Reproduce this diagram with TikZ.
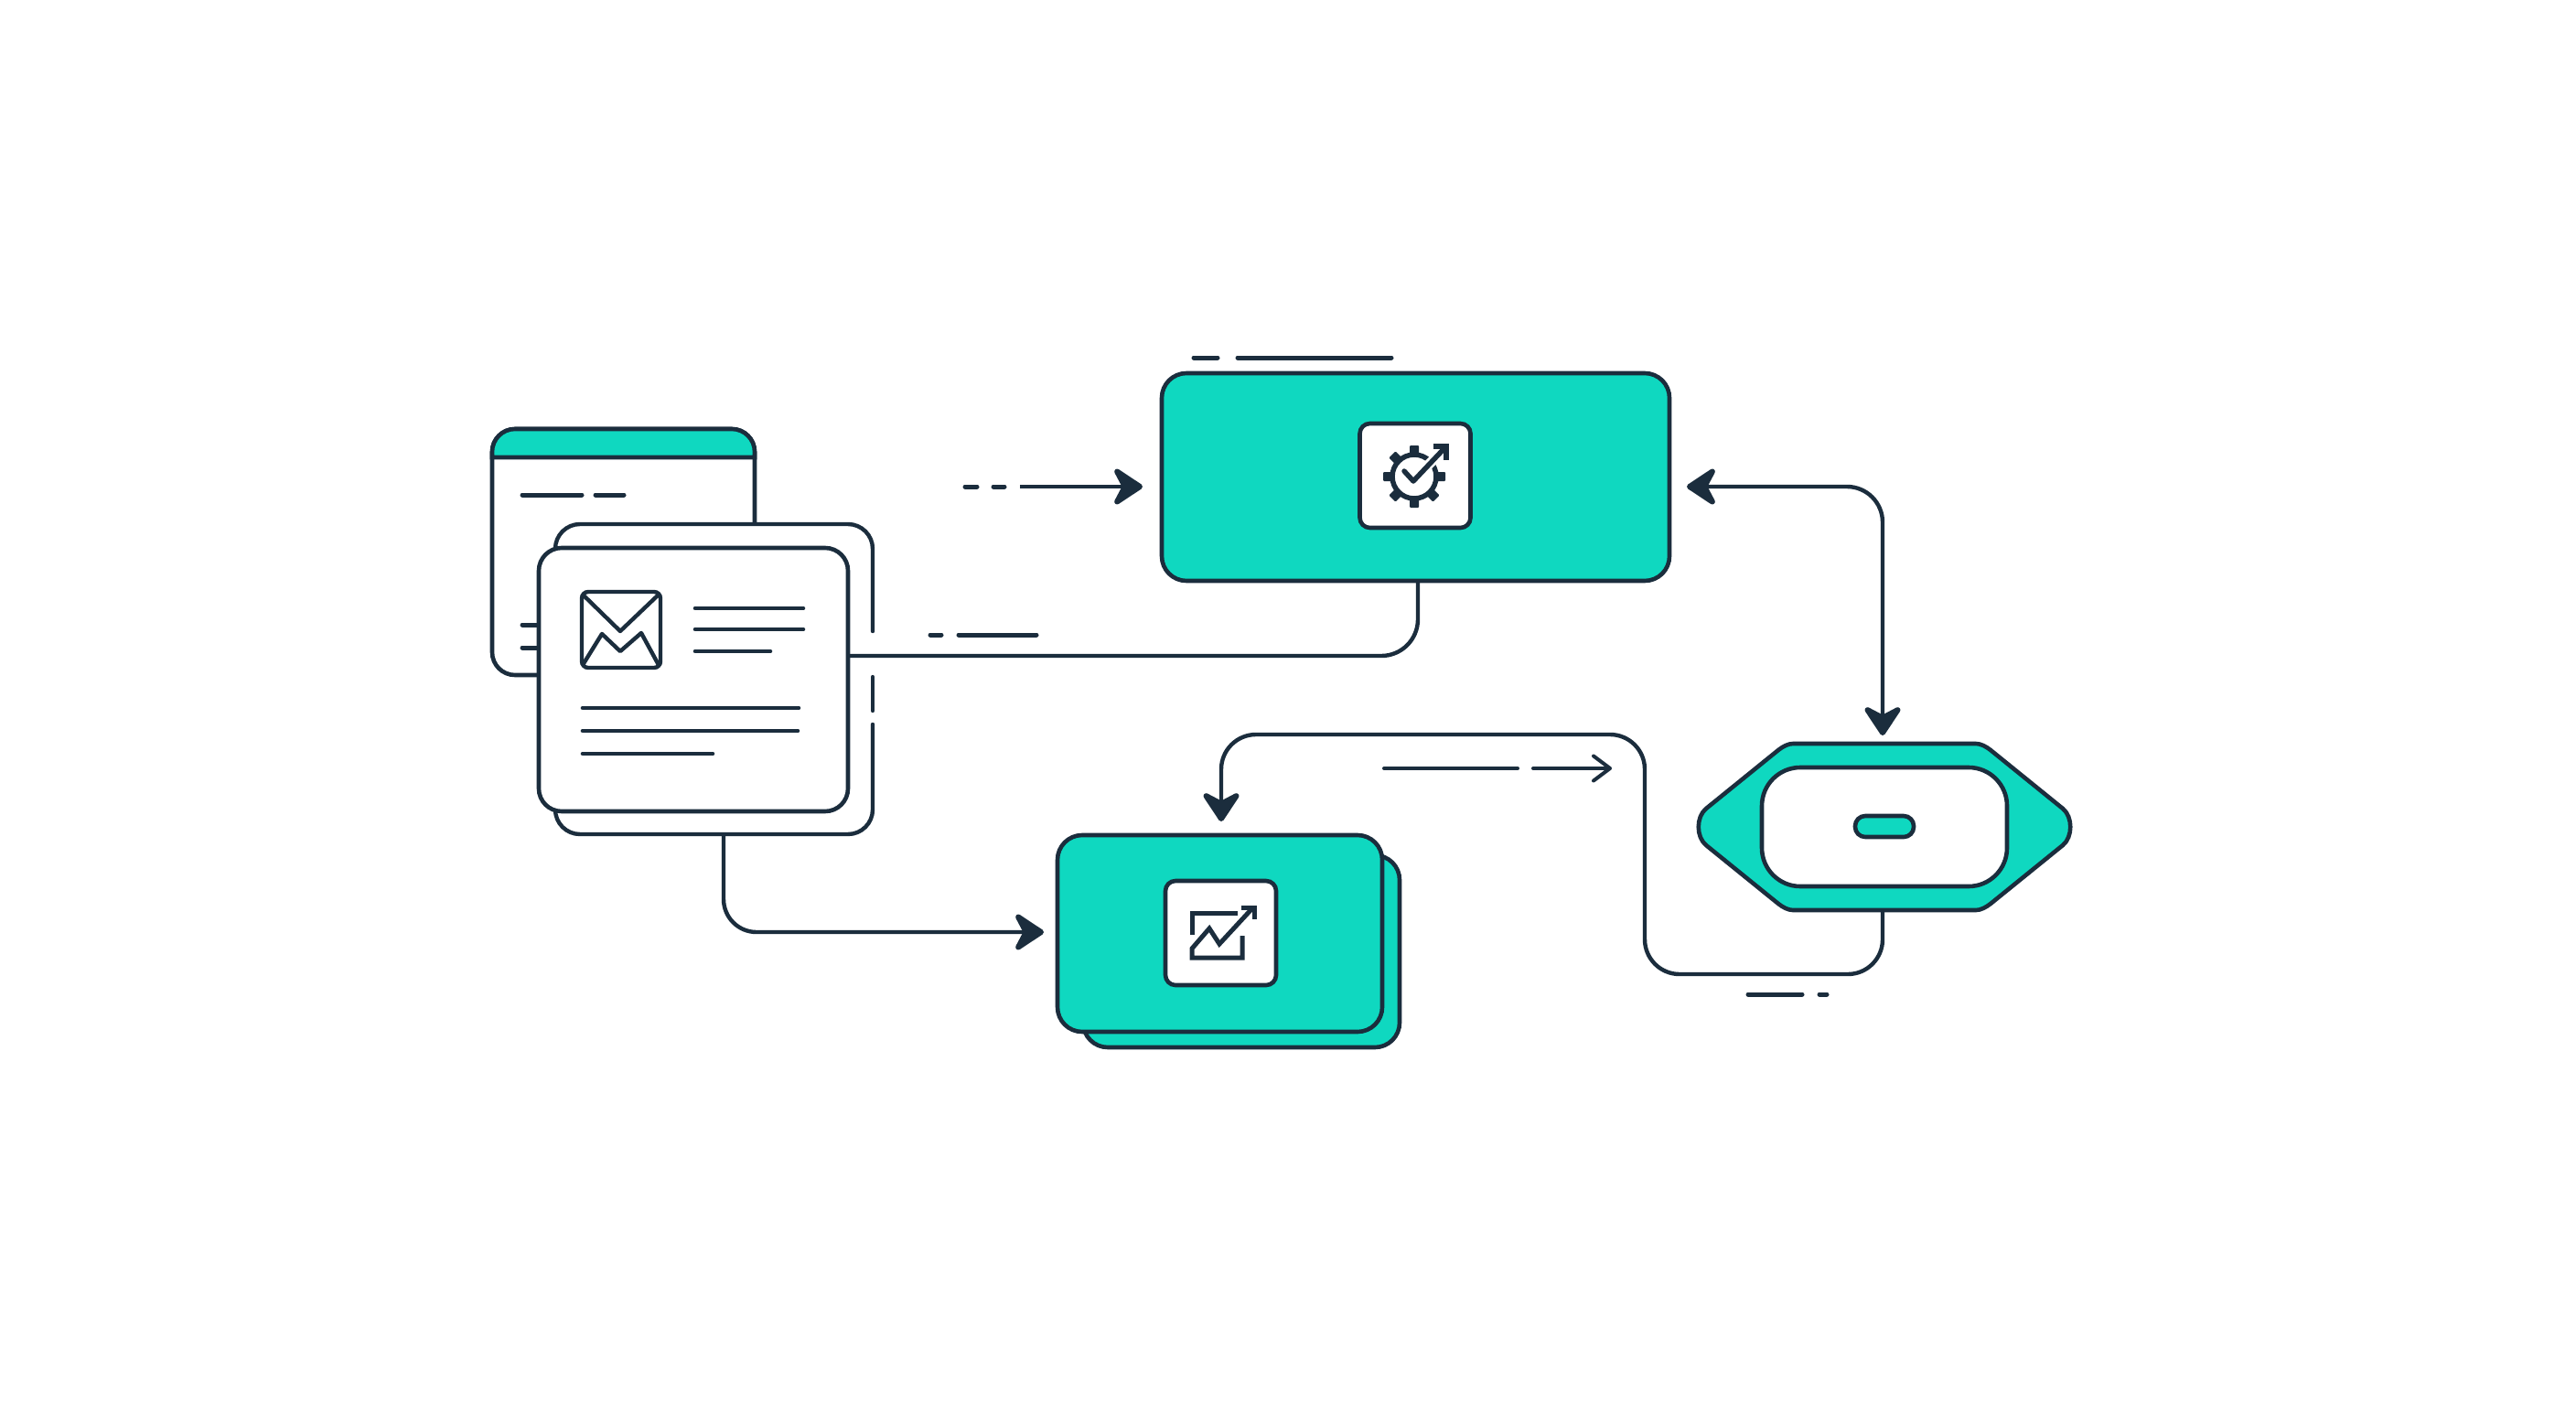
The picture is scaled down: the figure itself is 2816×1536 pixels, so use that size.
\documentclass[tikz,border=0pt]{standalone}
\usetikzlibrary{arrows.meta}
\definecolor{ink}{HTML}{1B2D3D}
\definecolor{teal}{HTML}{0FD8C0}
\tikzset{
  x=1pt,y=-1pt,
  box/.style={rectangle,draw=ink,line width=4.6pt,inner sep=0pt,outer sep=0pt},
  tealbox/.style={box,fill=teal,rounded corners=27pt},
  whitebox/.style={box,fill=white,rounded corners=25pt},
  iconbox/.style={box,fill=white,rounded corners=11pt},
  wire/.style={draw=ink,line width=4.4pt,line join=round},
  bigtip/.tip={Stealth[length=38pt,width=50pt,inset=13pt,line width=6pt,round]},
  thintip/.tip={Straight Barb[length=18pt,width=27pt,line width=4pt,round]},
  dashline/.style={draw=ink,line width=5pt,line cap=round},
  textline/.style={draw=ink,line width=4.6pt,line cap=round},
  glyph/.style={draw=ink,line width=5pt,line join=miter},
}
\begin{document}
\begin{tikzpicture}
\useasboundingbox[fill=white] (0,0) rectangle (2816,1536);

% port coordinates
\coordinate (inA) at (1115,532);
\coordinate (rowTop) at (0,532);
\coordinate (rowDoc) at (0,717);
\coordinate (rowStack) at (0,1019);
\coordinate (colTop) at (1550,0);
\coordinate (colDoc) at (791,0);
\coordinate (colHex) at (2058,0);
\coordinate (colStack) at (1335,0);
\coordinate (cornerA) at (1798,1065);
\coordinate (cornerB) at (1798,803);
\coordinate (thinA) at (1676,840);
\coordinate (thinB) at (1762,840);

% browser window
\node[whitebox,minimum width=287pt,minimum height=269pt] (window) at (681.5,603.5) {};
\draw[draw=ink,line width=4.6pt,fill=teal] (538,500) [rounded corners=25pt] -- (538,469) -- (825,469) [sharp corners] -- (825,500) -- cycle;
\draw[dashline] (571,541) -- (636,541);
\draw[dashline] (651,541) -- (682,541);
\draw[dashline] (571,683) -- (590,683);
\draw[dashline] (571,708) -- (590,708);

% back document
\node[rectangle,fill=white,rounded corners=27pt,inner sep=0pt,outer sep=0pt,minimum width=347pt,minimum height=339pt] (docback) at (780.5,742.5) {};
\draw[wire,line cap=round,rounded corners=27pt] (954,690) -- (954,573) -- (607,573) -- (607,912) -- (954,912) -- (954,792);
\draw[wire,line cap=round] (954,740) -- (954,777);

% front document
\node[whitebox,minimum width=338pt,minimum height=288pt] (docfront) at (758,743) {};
\node[box,line width=4.4pt,rounded corners=7pt,minimum width=86pt,minimum height=83pt] (mail) at (679,688.5) {};
\draw[draw=ink,line width=4.4pt,line join=round] (637,650) -- (678,690) -- (720,650);
\draw[draw=ink,line width=4.4pt,line join=round] (637,727) -- (658,693) -- (678,712) -- (701,692) -- (720,727);
\draw[textline] (760,665) -- (878,665);
\draw[textline] (760,688) -- (878,688);
\draw[textline] (760,712) -- (842,712);
\draw[textline] (637,774) -- (873,774);
\draw[textline] (637,799) -- (872,799);
\draw[textline] (637,824) -- (779,824);

% top box
\node[tealbox,minimum width=555pt,minimum height=227pt] (top) at (1547.5,521.5) {};
\node[iconbox,minimum width=121pt,minimum height=114pt] (topicon) at (1547,520) {};
\draw[draw=ink,line width=5.5pt] (1546,521) circle[radius=24pt];
\foreach \a in {0,45,90,135,180,225,270}
  \fill[ink,rotate around={\a:(1546,521)},rounded corners=1pt] (1541,487) rectangle (1551,496);
\draw[white,line width=11pt] (1553,517) -- (1581,488);
\draw[glyph,line width=5.5pt,line cap=round,line join=round] (1535,515) -- (1545,526) -- (1580,489);
\draw[glyph,line width=5.5pt,line join=miter] (1567,488) -- (1581,488) -- (1581,503);

% stacked box
\node[tealbox,minimum width=346pt,minimum height=210pt] (stackback) at (1357,1040) {};
\node[tealbox,minimum width=355pt,minimum height=215pt] (stack) at (1333.5,1020.5) {};
\node[iconbox,minimum width=121pt,minimum height=114pt] (stackicon) at (1334.5,1020) {};
\draw[glyph] (1303,1022) -- (1303,998) -- (1353,998);
\draw[glyph] (1358,1023) -- (1358,1047) -- (1303,1047) -- (1303,1037) -- (1322,1015) -- (1333,1032) -- (1369,993);
\draw[glyph] (1357,992) -- (1371,992) -- (1371,1005);

% hexagon
\node[rectangle,inner sep=0pt,outer sep=0pt,minimum width=406pt,minimum height=182pt] (hex) at (2060,904) {};
\draw[draw=ink,line width=4.6pt,fill=teal,line join=round]
  (1960,813) -- (2160,813) .. controls (2165,813) and (2171,816) .. (2176,820)
  -- (2255,884) .. controls (2266,893) and (2266,915) .. (2255,924)
  -- (2176,988) .. controls (2171,992) and (2165,995) .. (2160,995)
  -- (1960,995) .. controls (1955,995) and (1949,992) .. (1944,988)
  -- (1865,924) .. controls (1854,915) and (1854,893) .. (1865,884)
  -- (1944,820) .. controls (1949,816) and (1955,813) .. (1960,813) -- cycle;
\node[whitebox,rounded corners=42pt,minimum width=268pt,minimum height=130pt] (hexinner) at (2060,904) {};
\node[box,fill=teal,rounded corners=11pt,minimum width=64pt,minimum height=23pt] (hexpill) at (2060,903.5) {};

% connectors
\draw[wire,-{bigtip},shorten >=21pt] (inA) -- (top.west |- inA);
\draw[wire,rounded corners=40pt] (docfront.east |- rowDoc) -- (colTop |- rowDoc) -- (colTop |- top.south);
\draw[wire,rounded corners=36pt,-{bigtip},shorten >=15pt] (colDoc |- docback.south) -- (colDoc |- rowStack) -- (stack.west |- rowStack);
\draw[wire,rounded corners=39pt,{bigtip}-{bigtip},shorten <=19pt,shorten >=9pt] (top.east |- rowTop) -- (colHex |- rowTop) -- (colHex |- hex.north);
\draw[wire,rounded corners=38pt,-{bigtip},shorten >=15pt] (colHex |- hex.south) -- (colHex |- cornerA) -- (cornerA) -- (cornerB) -- (colStack |- cornerB) -- (colStack |- stack.north);
\draw[draw=ink,line width=4pt,line cap=round,-{thintip}] (thinA) -- (thinB);

% short dashes
\draw[dashline] (1055,532) -- (1068,532);
\draw[dashline] (1086,532) -- (1098,532);
\draw[dashline] (1305,391) -- (1331,391);
\draw[dashline] (1353,391) -- (1521,391);
\draw[dashline] (1017,694) -- (1029,694);
\draw[dashline] (1048,694) -- (1133,694);
\draw[draw=ink,line width=4pt,line cap=round] (1513,840) -- (1659,840);
\draw[dashline] (1911,1087) -- (1970,1087);
\draw[dashline] (1989,1087) -- (1997,1087);
\end{tikzpicture}
\end{document}
